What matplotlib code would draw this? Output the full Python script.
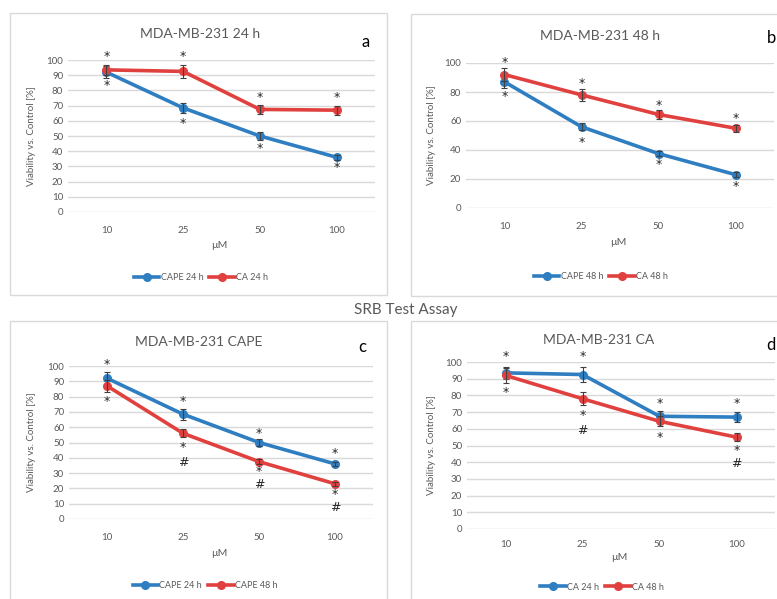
import matplotlib.pyplot as plt
from matplotlib.patches import Rectangle

plt.rcParams['font.family'] = ['Lato', 'DejaVu Sans']

W, H = 777, 599

conc = ["10", "25", "50", "100"]
cape24 = [92, 68.5, 50, 36]
cape24_err = [4, 3.5, 2.5, 1.5]
ca24 = [93.5, 92.5, 67.5, 67]
ca24_err = [3.5, 4.5, 3, 3]
cape48 = [87, 56, 37.5, 23]
cape48_err = [4, 2.5, 1.5, 1.5]
ca48 = [92, 78, 64.5, 55]
ca48_err = [4.5, 4, 3, 2.5]

# significance marks: (concentration index, y value, symbol)
marks_a = [(0, 102, "*"), (0, 83, "*"), (1, 102, "*"), (1, 58.5, "*"),
           (2, 75, "*"), (2, 41.5, "*"), (3, 75, "*"), (3, 29, "*")]
marks_b = [(0, 100.5, "*"), (0, 77, "*"), (1, 86, "*"), (1, 45.5, "*"),
           (2, 71, "*"), (2, 30, "*"), (3, 62, "*"), (3, 14.5, "*")]
marks_c = [(0, 101, "*"), (0, 76.5, "*"), (1, 76.5, "*"), (1, 46.5, "*"), (1, 37, "#"),
           (2, 56, "*"), (2, 31, "*"), (2, 22.5, "#"),
           (3, 42.5, "*"), (3, 16, "*"), (3, 7.5, "#")]
marks_d = [(0, 103, "*"), (0, 82, "*"), (1, 103, "*"), (1, 68, "*"), (1, 59, "#"),
           (2, 75, "*"), (2, 55, "*"), (3, 75, "*"), (3, 47, "*"), (3, 39, "#")]

BLUE = "#2F7EC1"
RED = "#E0413F"
GREY = "#595959"

fig = plt.figure(figsize=(W / 100, H / 100), dpi=100)


def fx(x):
    return x / W


def fy(y):
    return 1 - y / H


def box(x0, y0, x1, y1):
    fig.patches.append(Rectangle((fx(x0), fy(y1)), fx(x1 - x0), (y1 - y0) / H,
                                 transform=fig.transFigure, fill=False,
                                 edgecolor="#d9d9d9", lw=1))


def panel(px, title, letter, series, marks, ystep, title_xy, letter_pos,
          ylab_x, tick_y, xlab_y, leg_xy):
    x0, y0, x1, y1 = px
    ax = fig.add_axes([fx(x0), fy(y1), fx(x1 - x0), (y1 - y0) / H])
    xs = list(range(len(conc)))
    for vals, err, col, lab in series:
        ax.plot(xs, vals, color=col, lw=2.6, marker="o", ms=5.5, label=lab)
        ax.errorbar(xs, vals, yerr=err, fmt="none", ecolor="#404040",
                    elinewidth=0.8, capsize=2.5, capthick=0.8)
    for i, y, s in marks:
        ax.text(i, y, s, ha="center", va="center", fontsize=9,
                color="#262626", family="DejaVu Sans")
    ax.set_xlim(-0.5, len(conc) - 0.5)
    ax.set_ylim(0, 100)
    ax.set_yticks(range(0, 101, ystep))
    ax.set_xticks(xs)
    ax.set_xticklabels(conc)
    ax.grid(axis="y", color="#d9d9d9", lw=1)
    ax.set_axisbelow(True)
    for sp in ax.spines.values():
        sp.set_visible(False)
    ax.tick_params(length=0, labelsize=7, colors=GREY)
    ax.tick_params(axis="x", pad=(tick_y - y1) - 5)
    ax.patch.set_alpha(0)
    cx = (x0 + x1) / 2
    fig.text(fx(title_xy[0]), fy(title_xy[1]), title, ha="center", va="center",
             fontsize=10, color=GREY)
    fig.text(fx(letter_pos[0]), fy(letter_pos[1]), letter, ha="center",
             va="center", fontsize=12, color="black")
    fig.text(fx(ylab_x), fy((y0 + y1) / 2), "Viability vs. Control [%]",
             rotation=90, ha="center", va="center", fontsize=7, color=GREY)
    fig.text(fx(cx - 2), fy(xlab_y), "µM", ha="center", va="center",
             fontsize=7.5, color=GREY)
    ax.legend(loc="center", bbox_to_anchor=(fx(leg_xy[0]), fy(leg_xy[1])),
              bbox_transform=fig.transFigure, ncol=2, frameon=False,
              fontsize=6.5, handlelength=2.8, handletextpad=0.15,
              columnspacing=0.7, labelcolor=GREY)
    return ax


box(10, 13, 387, 295)
box(411, 14, 790, 296)
box(10, 321, 387, 610)
box(411, 321, 790, 610)

panel((68, 60, 375, 212), "MDA-MB-231 24 h", "a",
      [(cape24, cape24_err, BLUE, "CAPE 24 h"), (ca24, ca24_err, RED, "CA 24 h")],
      marks_a, 10, (200, 34), (366, 42), 32, 227, 246, (201, 278))
panel((466, 63, 774, 208), "MDA-MB-231 48 h", "b",
      [(cape48, cape48_err, BLUE, "CAPE 48 h"), (ca48, ca48_err, RED, "CA 48 h")],
      marks_b, 20, (600, 36), (771, 38), 432, 223, 243, (601, 277))
panel((69, 366, 373, 519), "MDA-MB-231 CAPE", "c",
      [(cape24, cape24_err, BLUE, "CAPE 24 h"), (cape48, cape48_err, RED, "CAPE 48 h")],
      marks_c, 10, (199, 342), (362, 347), 32, 534, 554, (205, 586))
panel((467, 362, 775, 529), "MDA-MB-231 CA", "d",
      [(ca24, ca24_err, BLUE, "CA 24 h"), (ca48, ca48_err, RED, "CA 48 h")],
      marks_d, 10, (599, 340), (771, 345), 432, 542, 558, (602, 587))

fig.text(fx(406), fy(310), "SRB Test Assay", ha="center", va="center",
         fontsize=11, color=GREY)

fig.savefig("out.png", dpi=100)
